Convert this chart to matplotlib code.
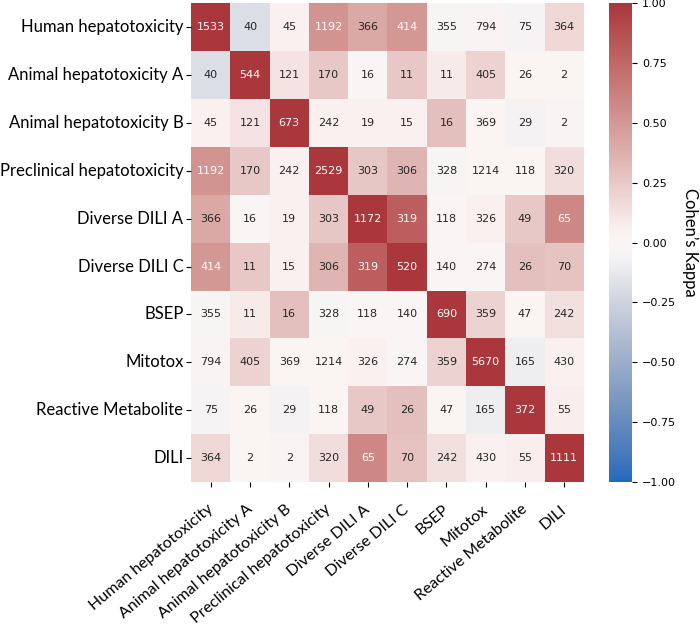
import numpy as np
import matplotlib
matplotlib.use('Agg')
import matplotlib.pyplot as plt
import matplotlib.transforms as mtransforms
import seaborn as sns

labels = ['Human hepatotoxicity', 'Animal hepatotoxicity A', 'Animal hepatotoxicity B',
          'Preclinical hepatotoxicity', 'Diverse DILI A', 'Diverse DILI C', 'BSEP',
          'Mitotox', 'Reactive Metabolite', 'DILI']

# overlap counts (annotations)
counts = np.array([
    [1533, 40, 45, 1192, 366, 414, 355, 794, 75, 364],
    [40, 544, 121, 170, 16, 11, 11, 405, 26, 2],
    [45, 121, 673, 242, 19, 15, 16, 369, 29, 2],
    [1192, 170, 242, 2529, 303, 306, 328, 1214, 118, 320],
    [366, 16, 19, 303, 1172, 319, 118, 326, 49, 65],
    [414, 11, 15, 306, 319, 520, 140, 274, 26, 70],
    [355, 11, 16, 328, 118, 140, 690, 359, 47, 242],
    [794, 405, 369, 1214, 326, 274, 359, 5670, 165, 430],
    [75, 26, 29, 118, 49, 26, 47, 165, 372, 55],
    [364, 2, 2, 320, 65, 70, 242, 430, 55, 1111],
])

kappa = np.array([
    [1.00, -0.18, 0.05, 0.52, 0.42, 0.50, -0.04, 0.03, -0.05, 0.18],
    [-0.18, 1.00, 0.12, 0.25, -0.03, 0.25, 0.08, 0.20, 0.02, 0.02],
    [0.05, 0.12, 1.00, 0.05, 0.05, 0.05, 0.30, 0.02, -0.06, 0.03],
    [0.52, 0.25, 0.05, 1.00, 0.26, 0.35, -0.04, 0.02, 0.02, 0.15],
    [0.42, -0.03, 0.05, 0.26, 1.00, 0.80, -0.02, 0.05, 0.25, 0.58],
    [0.50, 0.25, 0.05, 0.35, 0.80, 1.00, -0.02, -0.03, 0.30, 0.28],
    [-0.04, 0.08, 0.30, -0.04, -0.02, -0.02, 1.00, 0.20, 0.02, 0.14],
    [0.03, 0.20, 0.02, 0.02, 0.05, -0.03, 0.20, 1.00, -0.10, 0.05],
    [-0.05, 0.02, -0.06, 0.02, 0.25, 0.30, 0.02, -0.10, 1.00, 0.07],
    [0.18, 0.02, 0.03, 0.15, 0.58, 0.28, 0.14, 0.05, 0.07, 1.00],
])

fig = plt.figure(figsize=(7, 6.31), dpi=100)
ax = fig.add_axes([0.273, 0.236, 0.561, 0.759])
cax = fig.add_axes([0.870, 0.236, 0.033, 0.759])

sns.heatmap(kappa, ax=ax, cbar_ax=cax, cmap='vlag', vmin=-1, vmax=1, center=0,
            annot=counts, fmt='d', annot_kws={'size': 8},
            xticklabels=labels, yticklabels=labels,
            cbar_kws={'ticks': [-1, -0.75, -0.5, -0.25, 0, 0.25, 0.5, 0.75, 1]})

ax.set_xticklabels(labels, rotation=40, ha='right', rotation_mode='anchor',
                   fontsize=11.5, family='Lato')
ax.set_yticklabels(labels, rotation=0, fontsize=12, family='Lato')
ax.tick_params(axis='x', pad=11)
ax.tick_params(axis='y', pad=2)
shift = mtransforms.ScaledTranslation(-3 / 72, 0, fig.dpi_scale_trans)
for t in ax.get_xticklabels():
    t.set_transform(t.get_transform() + shift)

cax.tick_params(labelsize=8)
cax.set_yticklabels(['\u22121.00', '\u22120.75', '\u22120.50', '\u22120.25', '0.00',
                     '0.25', '0.50', '0.75', '1.00'])
cax.set_ylabel("Cohen\u2019s Kappa", rotation=270, fontsize=12, family='Lato',
               labelpad=16)

fig.savefig('out.png')
plt.close()
